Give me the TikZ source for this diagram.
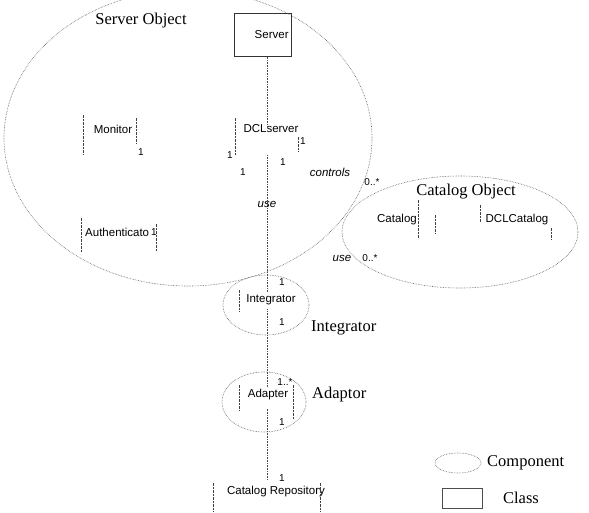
\documentclass[tikz,border=0pt]{standalone}
\usepackage{fontspec}
\setmainfont{Liberation Serif}
\setsansfont{Liberation Sans}
\usetikzlibrary{calc}

\tikzset{
  comp/.style={draw=black!65, densely dotted, line width=0.6pt},
  assoc/.style={draw=black!70, densely dotted, line width=0.6pt},
  edge/.style={draw=black!75, dash pattern=on 2.5pt off 1pt, line width=0.5pt},
  classname/.style={font=\sffamily\fontsize{11.5}{13}\selectfont, inner sep=0pt},
  grouplabel/.style={font=\fontsize{16.5}{18}\selectfont, inner sep=0pt},
  mult/.style={font=\sffamily\fontsize{10}{11}\selectfont, inner sep=0pt},
  role/.style={font=\sffamily\itshape\fontsize{11.5}{13}\selectfont, inner sep=0pt},
}

\begin{document}
\begin{tikzpicture}[x=1pt, y=-1pt]
    %% Background
    \useasboundingbox (0,0) rectangle (589,512);
    \coordinate (spine) at (267,0);

    %% Components
    \draw[comp] (188,138) ellipse [x radius=184pt, y radius=148pt];
    \draw[comp] (460,232) ellipse [x radius=118pt, y radius=56pt];
    \draw[comp] (266,305) ellipse [x radius=43pt, y radius=30pt];
    \draw[comp] (264,402) ellipse [x radius=42pt, y radius=30pt];

    \node[grouplabel] (srvobj) at (141,21) {Server Object};
    \node[grouplabel] (catobj) at (466,192) {Catalog Object};
    \node[grouplabel, anchor=west] (intlabel) at (311,328) {Integrator};
    \node[grouplabel, anchor=west] (adplabel) at (312,395) {Adaptor};

    %% Classes
    \node[draw=black!80, line width=0.8pt, minimum width=57pt, minimum height=43pt,
          anchor=north west, inner sep=0pt] (server) at (234,13) {};
    \node[classname, anchor=east] (servername) at ($(server.east)+(-3pt,0)$) {Server};
    \node[classname] (dclserver) at (271,129) {DCLserver};
    \node[classname] (monitor) at (113,129) {Monitor};
    \node[classname, anchor=west] (authent) at (85,232) {Authenticato};
    \node[classname] (catalog) at (397,220) {Catalog};
    \node[classname] (dclcatalog) at (517,220) {DCLCatalog};
    \node[classname] (integrator) at (271,300) {Integrator};
    \node[classname] (adapter) at (268,395) {Adapter};
    \node[classname] (repo) at (276,492) {Catalog Repository};

    %% Class edges
    \draw[edge] (83,115) -- (83,155);
    \draw[edge] (136,118) -- (136,143);
    \draw[edge] (235,118) -- (235,155);
    \draw[edge] (298,137) -- (298,152);
    \draw[edge] (81,218) -- (81,253);
    \draw[edge] (156,224) -- (156,252);
    \draw[edge] (418,200) -- (418,238);
    \draw[edge] (435,215) -- (435,233);
    \draw[edge] (480,205) -- (480,222);
    \draw[edge] (551,228) -- (551,239);
    \draw[edge] (239,290) -- (239,312);
    \draw[edge] (239,385) -- (239,410);
    \draw[edge] (293,385) -- (293,420);
    \draw[edge] (213,483) -- (213,512);
    \draw[edge] (320,483) -- (320,512);

    %% Associations
    \draw[assoc] (server.south -| spine) -- ($(dclserver.north -| spine)+(0,-3pt)$);
    \draw[assoc] ($(dclserver.south -| spine)+(0,-22pt)$) -- ($(integrator.north -| spine)+(0,2pt)$);
    \draw[assoc] ($(integrator.south -| spine)+(0,-4pt)$) -- ($(adapter.north -| spine)+(0,3pt)$);
    \draw[assoc] ($(adapter.south -| spine)+(0,-8pt)$) -- ($(repo.north -| spine)+(0,6pt)$);

    %% Notes
    \node[mult] (m1) at (141,152) {1};
    \node[mult] (m2) at (154,232) {1};
    \node[mult] (m3) at (230,155) {1};
    \node[mult] (m4) at (243,172) {1};
    \node[mult] (m5) at (283,162) {1};
    \node[mult] (m6) at (303,141) {1};
    \node[mult] (m7) at (372,182) {0..*};
    \node[mult] (m8) at (370,258) {0..*};
    \node[mult] (m9) at (282,282) {1};
    \node[mult] (m10) at (282,322) {1};
    \node[mult] (m11) at (285,382) {1..*};
    \node[mult] (m12) at (282,422) {1};
    \node[mult] (m13) at (282,478) {1};
    \node[role] (controls) at (330,172) {controls};
    \node[role] (use1) at (267,204) {use};
    \node[role] (use2) at (342,258) {use};

    %% Legend
    \draw[comp] (458,463) ellipse [x radius=23pt, y radius=10pt];
    \node[grouplabel, anchor=west] (lgcomp) at (487,463) {Component};
    \draw[draw=black!70, line width=0.6pt] (442,488) rectangle (482,508);
    \node[grouplabel] (lgclass) at (521,498) {Class};
\end{tikzpicture}
\end{document}
